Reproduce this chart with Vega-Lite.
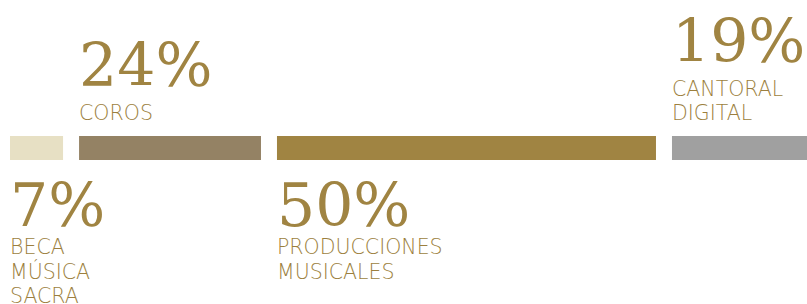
{
  "$schema": "https://vega.github.io/schema/vega-lite/v6.json",
  "width": 807,
  "height": 304,
  "padding": 0,
  "autosize": "none",
  "background": "white",
  "view": {"stroke": null},
  "data": {
    "values": [
      {"categoria": "Beca Música Sacra", "etiqueta": "BECA|MÚSICA|SACRA", "valor": 7},
      {"categoria": "Coros", "etiqueta": "COROS", "valor": 24},
      {"categoria": "Producciones Musicales", "etiqueta": "PRODUCCIONES|MUSICALES", "valor": 50},
      {"categoria": "Cantoral Digital", "etiqueta": "CANTORAL|DIGITAL", "valor": 19}
    ]
  },
  "transform": [
    {"window": [{"op": "row_number", "as": "orden"}]},
    {"stack": "valor", "groupby": [], "sort": [{"field": "orden"}], "as": ["inicio", "fin"]},
    {"calculate": "datum.valor + '%'", "as": "porcentaje"},
    {"calculate": "length(split(datum.etiqueta, '|'))", "as": "lineas"}
  ],
  "encoding": {
    "x": {"field": "inicio", "type": "quantitative", "scale": {"domain": [0, 100], "range": [10, 768]}, "axis": null},
    "y": {"datum": "total", "type": "nominal", "scale": {"range": [136, 160], "paddingInner": 0, "paddingOuter": 0}, "axis": null}
  },
  "layer": [
    {
      "mark": {"type": "bar", "xOffset": {"expr": "(datum.orden - 1) * 16"}, "x2Offset": {"expr": "(datum.orden - 1) * 16"}, "clip": true},
      "encoding": {
        "x2": {"field": "fin"},
        "color": {
          "field": "categoria", "type": "nominal", "legend": null,
          "scale": {"domain": ["Beca Música Sacra", "Coros", "Producciones Musicales", "Cantoral Digital"], "range": ["#e7e0c4", "#948264", "#a08442", "#a0a0a0"]}
        }
      }
    },
    {
      "transform": [{"filter": "datum.orden % 2 == 0"}],
      "mark": {"type": "text", "align": "left", "baseline": "alphabetic", "font": "DejaVu Serif", "fontWeight": 200, "fontSize": 60, "color": "#a08442", "xOffset": {"expr": "(datum.orden - 1) * 16"}, "dy": {"expr": "-62 - (datum.lineas - 1) * 24.5"}},
      "encoding": {"text": {"field": "porcentaje"}}
    },
    {
      "transform": [{"filter": "datum.orden % 2 == 0"}],
      "mark": {"type": "text", "align": "left", "baseline": "alphabetic", "font": "DejaVu Sans", "fontWeight": 200, "fontSize": 20.5, "lineHeight": 24.5, "lineBreak": "|", "color": "#9c7f3e", "xOffset": {"expr": "(datum.orden - 1) * 16"}, "dy": {"expr": "-28 - (datum.lineas - 1) * 24.5"}},
      "encoding": {"text": {"field": "etiqueta"}}
    },
    {
      "transform": [{"filter": "datum.orden % 2 == 1"}],
      "mark": {"type": "text", "align": "left", "baseline": "alphabetic", "font": "DejaVu Serif", "fontWeight": 200, "fontSize": 60, "color": "#a08442", "xOffset": {"expr": "(datum.orden - 1) * 16"}, "dy": 78},
      "encoding": {"text": {"field": "porcentaje"}}
    },
    {
      "transform": [{"filter": "datum.orden % 2 == 1"}],
      "mark": {"type": "text", "align": "left", "baseline": "alphabetic", "font": "DejaVu Sans", "fontWeight": 200, "fontSize": 20.5, "lineHeight": 24.5, "lineBreak": "|", "color": "#9c7f3e", "xOffset": {"expr": "(datum.orden - 1) * 16"}, "dy": 106},
      "encoding": {"text": {"field": "etiqueta"}}
    }
  ]
}
